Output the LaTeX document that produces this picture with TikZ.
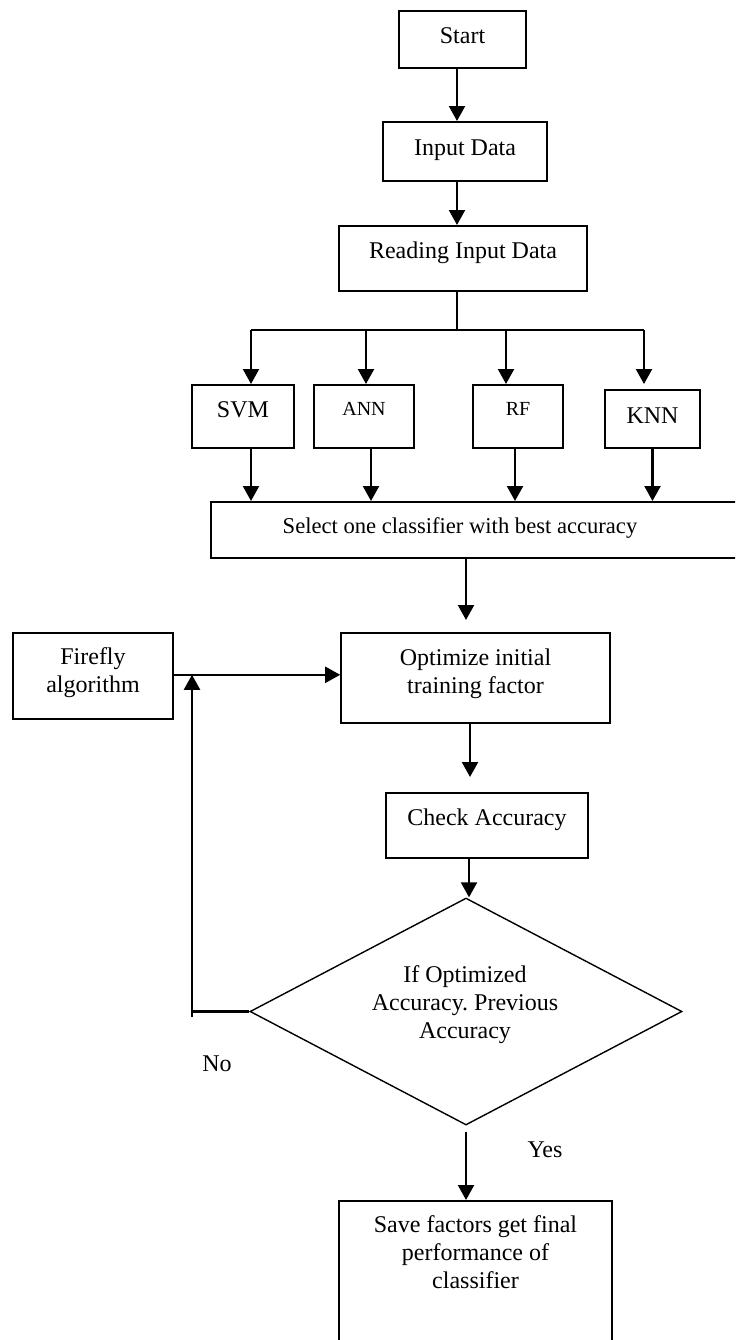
\documentclass[tikz,border=0pt]{standalone}
\usepackage{fontspec}
\setmainfont{Liberation Serif}
\usetikzlibrary{arrows.meta,shapes.geometric}
\frenchspacing
\newcommand{\twolines}[1]{\begin{tabular}[t]{@{}c@{}}#1\end{tabular}}
\tikzset{
  box/.style={draw, line width=0.8pt, inner sep=0pt, anchor=north,
              font=\fontsize{12}{14}\selectfont},
  small/.style={font=\fontsize{10}{12}\selectfont},
  dec/.style={draw, diamond, line width=0.7pt, inner sep=0pt,
              minimum width=216pt, minimum height=113.5pt},
  txt/.style={inner sep=0pt, anchor=base, font=\fontsize{12}{14}\selectfont},
  conn/.style={line width=1.1pt},
  arr/.style={line width=1.1pt, -{Triangle[width=8pt,length=7.5pt]}}
}
\begin{document}
\begin{tikzpicture}[x=0.5pt,y=-0.5pt]
\useasboundingbox (0,0) rectangle (735,1340);
\clip (0,0) rectangle (735,1340);

% boxes
\node[box, minimum width=63.5pt, text height=16.5pt, text depth=12pt] (start) at (462.5,10) {Start};
\node[box, minimum width=82pt, text height=17pt, text depth=12.5pt] (input) at (465,121) {Input Data};
\node[box, minimum width=124pt, text height=16.5pt, text depth=16pt] (read) at (463,225) {Reading Input Data};

\node[box, minimum width=51pt, text height=16.5pt, text depth=15pt] (svm) at (243,384) {SVM};
\node[box, small, minimum width=50pt, text height=15.5pt, text depth=16pt] (ann) at (364,384) {ANN};
\node[box, small, minimum width=45pt, text height=15.5pt, text depth=16pt] (rf) at (518,384) {RF};
\node[box, minimum width=47.5pt, text height=17pt, text depth=12pt] (knn) at (652.5,389) {KNN};

\node[box, font=\fontsize{11.3}{13}\selectfont, minimum width=267pt, text height=16pt, text depth=12pt] (sel) at (478,501) {\hspace*{-18pt}Select one classifier with best accuracy};

\node[box, minimum width=134.5pt, text height=16.5pt, text depth=28.5pt] (opt) at (475.5,632) {\twolines{Optimize initial\\training factor}};
\node[box, minimum width=80pt, text height=16pt, text depth=27pt] (ff) at (93,632) {\twolines{Firefly\\algorithm}};
\node[box, minimum width=101pt, text height=16.5pt, text depth=16pt] (chk) at (487,792) {Check Accuracy};

\node[dec] (dec) at (466,1011.5) {};
\node[txt] (dect) at (465,982) {\twolines{If Optimized\\Accuracy. Previous\\Accuracy}};

\node[box, minimum width=136.5pt, text height=16pt, text depth=59pt] (save) at (475.5,1200) {\twolines{Save factors get final\\performance of\\classifier}};

\node[txt] (yes) at (545,1157) {Yes};
\node[txt] (no) at (217,1071) {No};

% connectors
\draw[arr] ([xshift=-2.75pt]start.south) -- ([xshift=-2.75pt]start.south |- input.north);
\draw[arr] ([xshift=-4pt]input.south) -- ([xshift=-4pt]input.south |- read.north);
\coordinate (br) at (457,330);
\coordinate (b1) at (251,330);
\coordinate (b2) at (366,330);
\coordinate (b3) at (506,330);
\coordinate (b4) at (644,330);
\draw[conn] ([xshift=-3pt]read.south) -- (br);
\draw[conn] (b1) -- (b4);
\draw[arr] (b1) -- (b1 |- svm.north);
\draw[arr] (b2) -- (b2 |- ann.north);
\draw[arr] (b3) -- (b3 |- rf.north);
\draw[arr] (b4) -- (b4 |- svm.north);

\draw[arr] ([xshift=4pt]svm.south) -- ([xshift=4pt]svm.south |- sel.north);
\draw[arr] ([xshift=3.5pt]ann.south) -- ([xshift=3.5pt]ann.south |- sel.north);
\draw[arr] ([xshift=-1.5pt]rf.south) -- ([xshift=-1.5pt]rf.south |- sel.north);
\draw[arr] (knn.south) -- (knn.south |- sel.north);

\draw[arr, shorten >=6pt] ([xshift=-6pt]sel.south) -- ([xshift=-6pt]sel.south |- opt.north);
\draw[arr, shorten >=7.5pt] ([xshift=-2.75pt]opt.south) -- ([xshift=-2.75pt]opt.south |- chk.north);
\draw[arr] ([xshift=-9pt]chk.south) -- ([xshift=-9pt]chk.south |- dec.north);

\draw[arr] ([yshift=0.5pt]ff.east) -- ([yshift=0.5pt]ff.east -| opt.west);
\coordinate (lp) at (192,1011.5);
\draw[conn] (dec.west) -- (lp);
\draw[arr] ([yshift=-2.75pt]lp) -- ([yshift=0.5pt]lp |- ff.east);

\draw[arr, shorten <=3pt] (dec.south) -- (dec.south |- save.north);
\end{tikzpicture}
\end{document}
